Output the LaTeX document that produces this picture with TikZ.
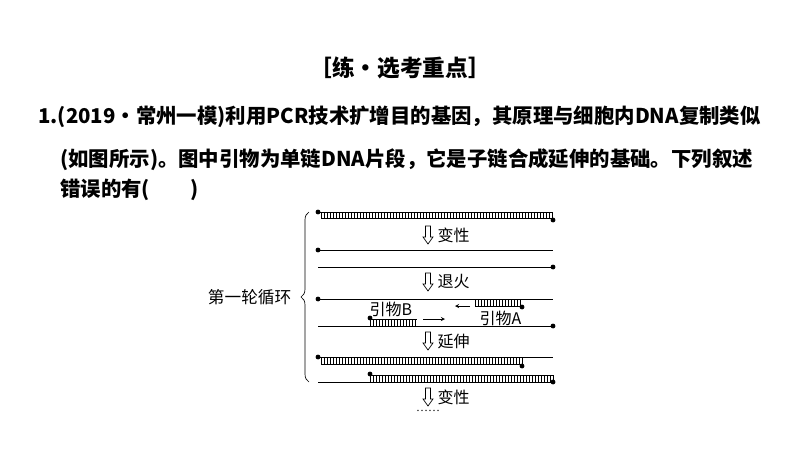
\documentclass[tikz,border=0pt]{standalone}
\usepackage{fontspec}
\setmainfont{Liberation Serif}
\newfontfamily\cjk{Noto Sans CJK SC}
\usetikzlibrary{decorations.pathreplacing}
\tikzset{
  strand/.style={line width=.6pt},
  rung/.style={line width=.4pt},
  enddot/.style={circle,fill,inner sep=1.3pt},
  stepname/.style={right,font=\cjk\fontsize{12}{12}\selectfont,inner sep=1pt},
  para/.style={right,font=\bfseries\cjk\fontsize{15.3}{15.3}\selectfont,inner sep=0pt}
}
% hatched double strand between x1 and x2, y top and bottom
\newcommand\ladder[4]{%
  \draw[strand] (#1,#3) -- (#2,#3) (#1,#4) -- (#2,#4);
  \foreach \xx in {#1,...,#2} {\pgfmathparse{mod(\xx-#1,3)==0}
    \ifnum\pgfmathresult=1 \draw[rung] (\xx,#3) -- (\xx,#4);\fi}
}
% hollow down arrow
\newcommand\downarr[2]{%
  \draw[line width=.5pt] (#1-2.5,#2) -- (#1-2.5,#2+11) -- (#1-5,#2+11) -- (#1,#2+18)
    -- (#1+5,#2+11) -- (#1+2.5,#2+11) -- (#1+2.5,#2) -- cycle;
}
\begin{document}
\begin{tikzpicture}[x=0.75pt,y=-0.75pt]
\useasboundingbox (0,0) rectangle (800,450);
\fill[white] (0,0) rectangle (800,450);

\node (title) at (400,68) {\bfseries\cjk\fontsize{17}{17}\selectfont［练·选考重点］};
\node[para] (p1) at (38,117) {1.(2019·常州一模)利用PCR技术扩增目的基因，其原理与细胞内DNA复制类似};
\node[para] (p2) at (60,160) {(如图所示)。图中引物为单链DNA片段，它是子链合成延伸的基础。下列叙述};
\node[para] (p3) at (60,190) {错误的有(\hspace{2em})};

% row 1: parent double strand
\draw[strand] (318,212) -- (321,212);
\ladder{321}{553}{212}{218}
\node[enddot] (d1) at (318,212) {};
\node[enddot] (d2) at (553,220) {};

\downarr{428}{226}
\node[stepname] (s1) at (436,235) {变性};

% row 2: separated strands
\draw[strand] (318,250) -- (553,250);
\node[enddot] (d3) at (318,250) {};
\draw[strand] (318,267) -- (553,267);
\node[enddot] (d4) at (553,267) {};

\downarr{428}{273}
\node[stepname] (s2) at (436,282) {退火};

% row 3: primers bound
\draw[strand] (318,299) -- (553,299);
\node[enddot] (d5) at (318,299) {};
\ladder{475}{522}{299}{306}
\node[enddot] (d6) at (522,307) {};
\draw[->,>=stealth] (470,306) -- (455,306);
\node[stepname] (pa) at (478,318) {引物A};

\node[stepname] (pb) at (368,309) {引物B};
\ladder{370}{417}{319}{326}
\node[enddot] (d7) at (370,318) {};
\draw[->,>=stealth] (423,319) -- (445,319);
\draw[strand] (318,326) -- (553,326);
\node[enddot] (d8) at (553,326) {};

\downarr{428}{332}
\node[stepname] (s3) at (436,342) {延伸};

% row 4: extended strands
\draw[strand] (318,357) -- (553,357);
\ladder{321}{522}{357}{364}
\node[enddot] (d9) at (318,357) {};
\node[enddot] (d10) at (522,366) {};
\ladder{370}{553}{375}{382}
\draw[strand] (318,382) -- (553,382);
\node[enddot] (d11) at (370,374) {};
\node[enddot] (d12) at (553,382) {};

\downarr{428}{388}
\node[stepname] (s4) at (436,397) {变性};
\node (more) at (428,411) {\fontsize{9}{9}\selectfont ……};

% brace and cycle label
\draw[line width=.5pt,decorate,decoration={brace,amplitude=6pt}] (309,382) -- (309,212);
\node[left,font=\cjk\fontsize{12.5}{12.5}\selectfont] (cyc) at (296,297) {第一轮循环};
\end{tikzpicture}
\end{document}
